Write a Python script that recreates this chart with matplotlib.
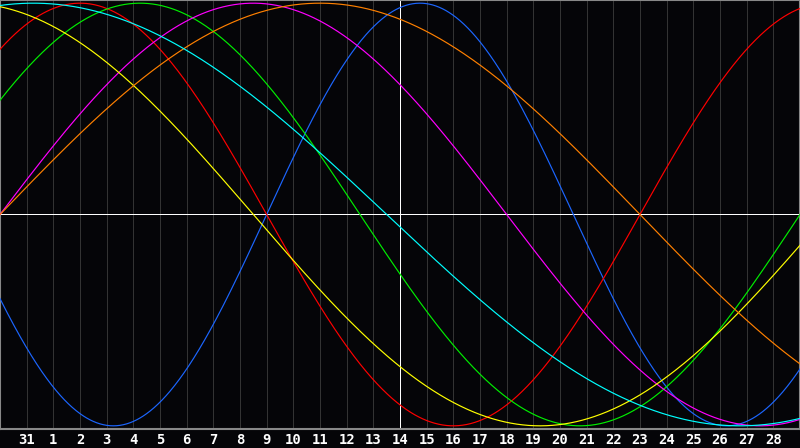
import numpy as np
import matplotlib
matplotlib.use("Agg")
import matplotlib.pyplot as plt

# cycle lengths (days) and the day on the chart where each curve crosses zero going up
periods = [23, 28, 33, 38, 43, 48, 53]
zero_up = [10.0, 24.0, 30.0, 0.0, -12.0, 0.0, -12.0]
colors = ['#1c66ff', '#ff0000', '#00ee00', '#ff00ff', '#ffff00', '#ff8000', '#00ffff']

# day labels under the grid lines (Jan 31 .. Feb 28)
day_labels = ['31'] + [str(i) for i in range(1, 29)]
today = 15  # position of the 14th

px = 0.72  # one pixel in points at 100 dpi

fig = plt.figure(figsize=(8, 4.48), dpi=100, facecolor='#050508')
ax = fig.add_axes([0, 1 - 429 / 448, 1, 429 / 448])
ax.set_facecolor('#050508')
ax.set_xlim(0, 30)
ax.set_ylim(-1.015, 1.015)

# day grid
for i in range(1, 30):
    ax.axvline(i, color='#333333', lw=px, antialiased=False, zorder=1)

ax.axhline(0, color='white', lw=px, antialiased=False, zorder=2)
ax.axvline(today, color='white', lw=px, antialiased=False, zorder=2)

d = np.linspace(0, 30, 1201)
for p, z, c in zip(periods, zero_up, colors):
    ax.plot(d, np.sin(2 * np.pi * (d - z) / p), color=c, lw=0.85,
            antialiased=True, zorder=3)

ax.set_xticks(range(1, 30))
ax.set_xticklabels(day_labels, color='white', fontsize=10,
                   fontweight='bold', family='DejaVu Sans Mono')
ax.tick_params(axis='x', length=0, pad=3)
ax.set_yticks([])
for s in ax.spines.values():
    s.set_color('#888888')
    s.set_linewidth(1.5)

fig.savefig('out.png', dpi=100, facecolor=fig.get_facecolor())
